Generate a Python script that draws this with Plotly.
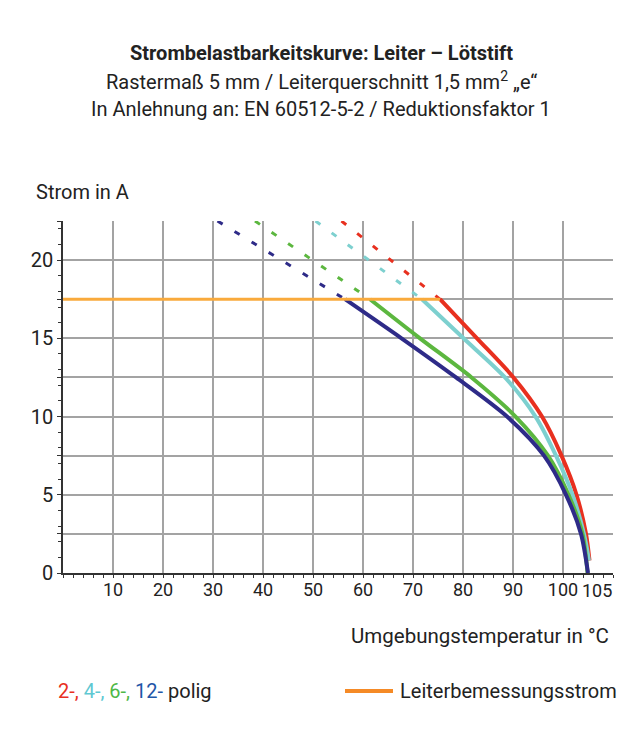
import plotly.graph_objects as go

# ---------------- data ----------------
temp_2pol = [75.4, 82.8, 90.1, 95.8, 99.7, 102.7, 104.6, 105.3]
curr_2pol = [17.5, 15.0, 12.5, 10.0, 7.5, 5.0, 2.5, 0.8]
temp_4pol = [71.8, 80.1, 88.4, 94.5, 98.6, 101.9, 104.2, 105.2]
curr_4pol = [17.5, 15.0, 12.5, 10.0, 7.5, 5.0, 2.5, 0.8]
temp_6pol = [61.4, 71.4, 81.7, 90.5, 97.0, 101.1, 103.9, 104.9]
curr_6pol = [17.5, 15.0, 12.5, 10.0, 7.5, 5.0, 2.5, 0.0]
temp_12pol = [56.4, 67.7, 78.6, 88.8, 96.2, 100.6, 103.6, 105.0]
curr_12pol = [17.5, 15.0, 12.5, 10.0, 7.5, 5.0, 2.5, 0.0]

# dotted extensions above the rated current
ext_temp_2pol = [55.7, 75.4]
ext_temp_4pol = [50.5, 71.8]
ext_temp_6pol = [38.4, 61.4]
ext_temp_12pol = [30.9, 56.4]
ext_curr = [22.5, 17.5]

rated_temp = [0, 75.4]
rated_curr = [17.5, 17.5]

x_grid_vals = [0, 10, 20, 30, 40, 50, 60, 70, 80, 90, 100, 110]
x_grid_text = ["", "10", "20", "30", "40", "50", "60", "70", "80", "90", "100", ""]
x_extra_val = 105
x_extra_text = "105"
y_vals = [0, 2.5, 5, 7.5, 10, 12.5, 15, 17.5, 20, 22.5]
y_text = ["0", "", "5", "", "10", "", "15", "", "20", ""]

# ---------------- style ----------------
RED = "#e8301f"
CYAN = "#7dd0cf"
GREEN = "#5cb73f"
BLUE = "#2e2b88"
ORANGE = "#f9aa3c"
ORANGE_LEG = "#f58a26"
GRID = "#a3a3a3"
TXT = "#222222"
FONT = "Roboto, sans-serif"

W, H = 642, 754
L, R, T, B = 63, 29, 221, 181
PW, PH = W - L - R, H - T - B


def px(xp):
    return (xp - L) / PW


def py(yp):
    return (H - B - yp) / PH


fig = go.Figure()

series = [
    (temp_2pol, curr_2pol, ext_temp_2pol, RED),
    (temp_4pol, curr_4pol, ext_temp_4pol, CYAN),
    (temp_6pol, curr_6pol, ext_temp_6pol, GREEN),
    (temp_12pol, curr_12pol, ext_temp_12pol, BLUE),
]
for t, c, et, col in series:
    fig.add_trace(go.Scatter(x=et, y=ext_curr, mode="lines",
                             line=dict(color=col, width=3, dash="6px,14px"),
                             showlegend=False, hoverinfo="skip"))
for t, c, et, col in series:
    fig.add_trace(go.Scatter(x=t, y=c, mode="lines",
                             line=dict(color=col, width=4, shape="spline", smoothing=0.8),
                             showlegend=False))

fig.add_trace(go.Scatter(x=rated_temp, y=rated_curr, mode="lines",
                         line=dict(color=ORANGE, width=3), showlegend=False))

fig.update_layout(
    width=W, height=H,
    margin=dict(l=L, r=R, t=T, b=B),
    paper_bgcolor="white", plot_bgcolor="white",
    font=dict(family=FONT, color=TXT, size=20),
    showlegend=False,
    xaxis=dict(range=[0, 110], tickmode="array", tickvals=x_grid_vals, ticktext=x_grid_text,
               showgrid=True, gridcolor=GRID, gridwidth=1.5, zeroline=False,
               showline=True, linecolor="#333333", linewidth=1.5,
               ticks="", tickfont=dict(size=18, color=TXT),
               minor=dict(dtick=2, tick0=0, ticks="outside", ticklen=3, tickcolor="#333333",
                          showgrid=False),
               fixedrange=True),
    yaxis=dict(range=[0, 22.5], tickmode="array", tickvals=y_vals, ticktext=y_text,
               showgrid=True, gridcolor=GRID, gridwidth=1.5, zeroline=False,
               showline=True, linecolor="#333333", linewidth=1.5,
               ticks="outside", ticklen=4, tickcolor="#333333",
               tickfont=dict(size=20, color=TXT),
               minor=dict(dtick=1, tick0=0, ticks="outside", ticklen=3, tickcolor="#333333",
                          showgrid=False),
               fixedrange=True),
)

# extra "105" tick label, nudged right so it does not collide with "100"
fig.add_annotation(xref="x", yref="paper", x=x_extra_val, y=py(578), xanchor="center", yanchor="top",
                   xshift=9, text=x_extra_text, showarrow=False, font=dict(size=18, color=TXT))

ann = [
    dict(text="<b>Strombelastbarkeitskurve: Leiter \u2013 Lötstift</b>", x=px(321), y=py(53)),
    dict(text="Rastermaß 5 mm / Leiterquerschnitt 1,5 mm<sup>2</sup> \u201ee\u201c", x=px(321), y=py(81)),
    dict(text="In Anlehnung an: EN 60512-5-2 / Reduktionsfaktor 1", x=px(321), y=py(109)),
]
for a in ann:
    fig.add_annotation(xref="paper", yref="paper", xanchor="center", yanchor="middle",
                       showarrow=False, font=dict(size=20, color=TXT), **a)

fig.add_annotation(xref="paper", yref="paper", x=px(34), y=py(192), xanchor="left", yanchor="middle",
                   text="Strom in A", showarrow=False, font=dict(size=20, color=TXT))
fig.add_annotation(xref="paper", yref="paper", x=px(611), y=py(636), xanchor="right", yanchor="middle",
                   text="Umgebungstemperatur in °C", showarrow=False, font=dict(size=20.5, color=TXT))

legend_txt = (f"<span style='color:{RED}'>2-,</span> "
              f"<span style='color:#5ec8d2'>4-,</span> "
              f"<span style='color:#4eb847'>6-,</span> "
              f"<span style='color:#1f57a8'>12-</span> polig")
fig.add_annotation(xref="paper", yref="paper", x=px(56), y=py(691), xanchor="left", yanchor="middle",
                   text=legend_txt, showarrow=False, font=dict(size=20, color=TXT))
fig.add_shape(type="line", xref="paper", yref="paper", x0=px(345), x1=px(393), y0=py(691), y1=py(691),
              line=dict(color=ORANGE_LEG, width=4))
fig.add_annotation(xref="paper", yref="paper", x=px(398), y=py(691), xanchor="left", yanchor="middle",
                   text="Leiterbemessungsstrom", showarrow=False, font=dict(size=20, color=TXT))

fig.write_html("out.html")
